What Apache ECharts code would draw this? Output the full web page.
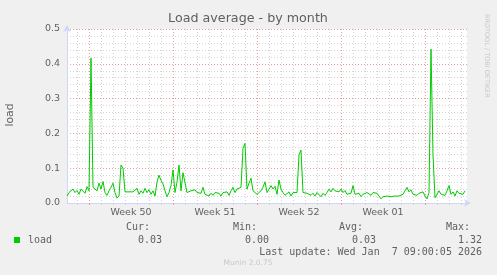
<!DOCTYPE html>
<html><head><meta charset="utf-8">
<script src="https://cdn.jsdelivr.net/npm/echarts@6/dist/echarts.min.js"></script>
<style>html,body{margin:0;padding:0;background:#f0f0f0;}#c{width:497px;height:275px;}</style>
</head><body><div id="c"></div>
<script>
// load average, one sample per 4 hours
const loadValues = [
0.020,0.030,0.028,0.040,0.030,0.036,0.025,0.040,0.045,0.028,
0.047,0.035,0.416,0.045,0.050,0.035,0.057,0.040,0.062,0.030,
0.022,0.035,0.045,0.057,0.030,0.014,0.020,0.109,0.100,0.032,
0.032,0.032,0.032,0.032,0.030,0.042,0.025,0.035,0.028,0.042,
0.030,0.038,0.025,0.035,0.020,0.060,0.080,0.065,0.055,0.035,
0.018,0.030,0.050,0.095,0.030,0.060,0.109,0.035,0.087,0.090,
0.030,0.025,0.035,0.040,0.038,0.030,0.035,0.028,0.045,0.025,
0.030,0.020,0.028,0.022,0.030,0.025,0.028,0.020,0.030,0.025,
0.032,0.022,0.035,0.045,0.030,0.040,0.035,0.045,0.157,0.171,
0.040,0.057,0.071,0.035,0.040,0.025,0.030,0.035,0.045,0.061,
0.030,0.035,0.050,0.040,0.048,0.025,0.066,0.040,0.030,0.022,
0.025,0.032,0.020,0.030,0.025,0.030,0.138,0.152,0.030,0.035,
0.028,0.030,0.022,0.028,0.020,0.030,0.025,0.018,0.028,0.022,
0.030,0.040,0.032,0.042,0.035,0.040,0.032,0.040,0.030,0.036,
0.025,0.030,0.028,0.050,0.025,0.020,0.028,0.018,0.025,0.020,
0.030,0.025,0.022,0.030,0.025,0.028,0.020,0.012,0.018,0.015,
0.020,0.015,0.018,0.015,0.020,0.016,0.020,0.018,0.025,0.035,
0.045,0.032,0.038,0.025,0.030,0.022,0.028,0.025,0.032,0.020,
0.012,0.030,0.442,0.138,0.015,0.020,0.035,0.025,0.030,0.022,
0.035,0.050,0.025,0.032,0.020,0.035,0.028,0.030,0.025,0.035
];
const weekLabels = ['Week 50','Week 51','Week 52','Week 01'];
const yMajorTicks = [0.0,0.1,0.2,0.3,0.4,0.5];
const statNames = ['Cur:','Min:','Avg:','Max:'];
const statValues = ['0.03','0.00','0.03','1.32'];
const lastUpdate = 'Last update: Wed Jan  7 09:00:05 2026';

const samplesPerDay = 6, samplesPerWeek = 42, firstWeekIdx = 11;
const cats = Array.from({length: loadValues.length + 1}, (_, i) => i);
const isWeek = i => i >= firstWeekIdx && (i - firstWeekIdx) % samplesPerWeek === 0;
const isDay = i => ((i - firstWeekIdx) % samplesPerDay + samplesPerDay) % samplesPerDay === 0 && !isWeek(i) && i > 0;
const isLabel = i => i >= firstWeekIdx && (i - firstWeekIdx - samplesPerWeek/2) % samplesPerWeek === 0 && ((i - firstWeekIdx - samplesPerWeek/2) / samplesPerWeek) < weekLabels.length;

const FONT = '#606060';
const AXIS = '#cfd6f8';
const MINOR = '#d4d4d4';
const MAJOR = '#ec9a9a';
const chart = echarts.init(document.getElementById('c'));
const monoFont = '10px "DejaVu Sans Mono"';
const statX = [150, 257, 363, 470];
const valX = [162, 269, 376, 482];
const graphics = [
  {type:'text', x:248, y:19, style:{text:'Load average - by month', font:'12.7px "DejaVu Sans"', fill:FONT, textAlign:'center', textVerticalAlign:'middle'}},
  {type:'text', x:10, y:115, rotation:Math.PI/2, style:{text:'load', font:'10.8px "DejaVu Sans"', fill:FONT, textAlign:'center', textVerticalAlign:'middle'}},
  {type:'text', x:487, y:14, rotation:-Math.PI/2, style:{text:'RRDTOOL / TOBI OETIKER', font:'6.5px "DejaVu Sans"', fill:'#c8c8c8', textAlign:'left', textVerticalAlign:'middle'}},
  {type:'text', x:248, y:263, style:{text:'Munin 2.0.75', font:'7.5px "DejaVu Sans"', fill:'#c8c8c8', textAlign:'center', textVerticalAlign:'middle'}},
  {type:'text', x:482, y:252, style:{text:lastUpdate, font:monoFont, fill:FONT, textAlign:'right', textVerticalAlign:'middle'}}
];
statNames.forEach((t, k) => graphics.push({type:'text', x:statX[k], y:227, style:{text:t, font:monoFont, fill:FONT, textAlign:'right', textVerticalAlign:'middle'}}));
statValues.forEach((t, k) => graphics.push({type:'text', x:valX[k], y:240, style:{text:t, font:monoFont, fill:FONT, textAlign:'right', textVerticalAlign:'middle'}}));

chart.setOption({
  animation:false,
  backgroundColor:'#f0f0f0',
  grid:{left:67, right:30, top:29, bottom:72, show:true, backgroundColor:'#ffffff', borderWidth:0},
  legend:{show:true, left:14, top:235, padding:0, orient:'horizontal', itemWidth:6, itemHeight:6, itemGap:10, icon:'rect',
    textStyle:{fontFamily:'DejaVu Sans Mono', fontSize:10, color:FONT, padding:[0,0,0,3]},
    data:[{name:'load', itemStyle:{color:'#00cc00'}}]},
  xAxis:[
    {type:'category', data:cats, boundaryGap:false,
      axisLine:{show:true, lineStyle:{color:AXIS, width:1}, symbol:['none','arrow'], symbolSize:[6,7], symbolOffset:[0,4]},
      axisTick:{show:true, length:2, interval:(i)=>isDay(i), lineStyle:{color:MINOR}},
      axisLabel:{show:false},
      splitLine:{show:true, interval:(i)=>isDay(i), lineStyle:{color:MINOR, type:[1,2], width:1}}},
    {type:'category', data:cats, boundaryGap:false, position:'bottom',
      axisLine:{show:false},
      axisTick:{show:true, length:2, interval:(i)=>isWeek(i), lineStyle:{color:MAJOR}},
      axisLabel:{show:true, interval:(i)=>isLabel(i), margin:5, color:FONT, fontFamily:'DejaVu Sans', fontSize:9.5,
        formatter:(v)=>weekLabels[(Number(v) - firstWeekIdx - samplesPerWeek/2)/samplesPerWeek]},
      splitLine:{show:true, interval:(i)=>isWeek(i), lineStyle:{color:MAJOR, type:[1,2], width:1}}}
  ],
  yAxis:[
    {type:'value', min:0, max:0.5, interval:0.02,
      axisLine:{show:true, lineStyle:{color:AXIS, width:1}, symbol:['none','arrow'], symbolSize:[6,7], symbolOffset:[0,4]},
      axisTick:{show:false}, axisLabel:{show:false},
      splitLine:{show:true, lineStyle:{color:MINOR, type:[1,2], width:1}}},
    {type:'value', min:yMajorTicks[0], max:yMajorTicks[yMajorTicks.length-1], interval:0.1, position:'left',
      axisLine:{show:false}, axisTick:{show:false},
      axisLabel:{show:true, margin:7, color:FONT, fontFamily:'DejaVu Sans', fontSize:9.5, formatter:(v)=>v.toFixed(1)},
      splitLine:{show:true, lineStyle:{color:MAJOR, type:[1,2], width:1}}}
  ],
  series:[{name:'load', type:'line', xAxisIndex:0, yAxisIndex:0, data:loadValues, showSymbol:false, symbol:'none',
    lineStyle:{color:'#00cc00', width:1}, itemStyle:{color:'#00cc00'}, z:10}],
  graphic:graphics
});
</script></body></html>
